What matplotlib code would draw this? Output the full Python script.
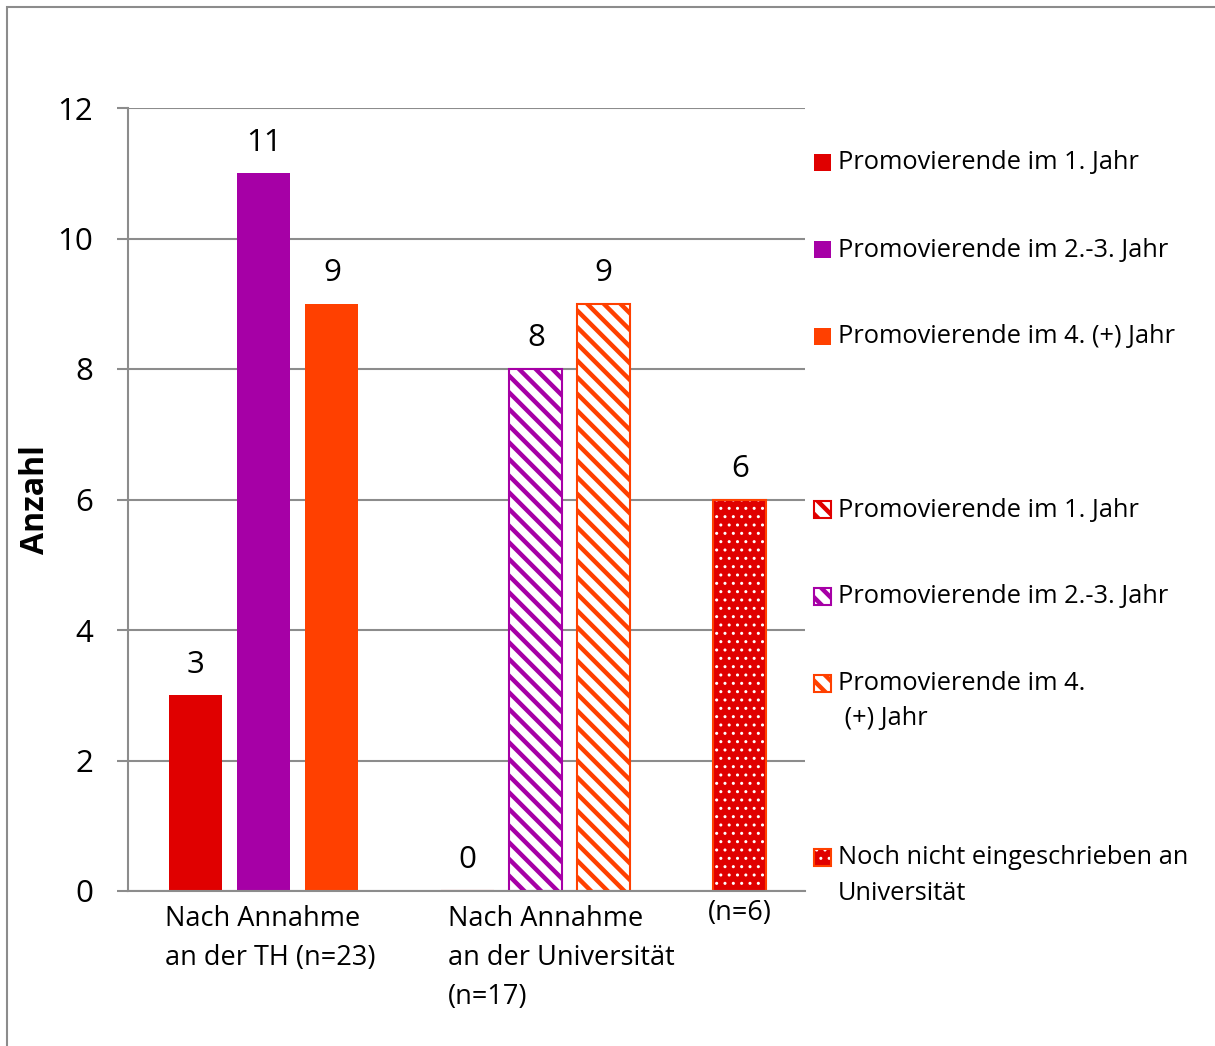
import matplotlib
matplotlib.use("Agg")
import matplotlib.pyplot as plt
from matplotlib.patches import Rectangle

# --- data -------------------------------------------------------------
category_labels = ["Nach Annahme\nan der TH (n=23)",
                   "Nach Annahme\nan der Universität\n(n=17)",
                   "(n=6)"]
series_labels = ["Promovierende im 1. Jahr",
                 "Promovierende im 2.-3. Jahr",
                 "Promovierende im 4. (+) Jahr"]
series_labels_uni = ["Promovierende im 1. Jahr",
                     "Promovierende im 2.-3. Jahr",
                     "Promovierende im 4.\n (+) Jahr"]
label_not_enrolled = "Noch nicht eingeschrieben an\nUniversität"

th_values = [3, 11, 9]          # Nach Annahme an der TH
uni_values = [0, 8, 9]          # Nach Annahme an der Universität
not_enrolled_values = [6]       # Noch nicht eingeschrieben

y_ticks = [0, 2, 4, 6, 8, 10, 12]
y_label = "Anzahl"

# --- style -----------------------------------------------------------
RED = "#E00000"
PURPLE = "#A600A6"
ORANGE = "#FF4000"
GRID = "#8C8C8C"
colors = [RED, PURPLE, ORANGE]
FONT = "Open Sans"
STRIPE_LW = 3.2
DOT_LW = 1.0
NUM_SIZE = 22.5

plt.rcParams["font.family"] = [FONT, "DejaVu Sans"]
plt.rcParams["hatch.linewidth"] = STRIPE_LW

W, H = 1215, 1046
fig = plt.figure(figsize=(W / 100, H / 100), dpi=100)
ax = fig.add_axes([128 / W, 1 - 891 / H, (805 - 128) / W, (891 - 108) / H])

bar_w = 0.78
th_pos = [1, 2, 3]
uni_pos = [5, 6, 7]
ne_pos = [9]


def set_hatch_lw(patches, lw):
    for p in patches:
        if hasattr(p, "set_hatch_linewidth"):
            p.set_hatch_linewidth(lw)


def value_label(x, v):
    ax.annotate(f"{v}", (x, v), xytext=(0, 22), textcoords="offset points",
                ha="center", va="center", fontsize=NUM_SIZE, color="black")


# solid bars
for x, v, c in zip(th_pos, th_values, colors):
    ax.bar(x, v, width=bar_w, color=c, edgecolor="none", zorder=2)
    value_label(x, v)

# hatched bars (white fill, coloured diagonal stripes)
for x, v, c in zip(uni_pos, uni_values, colors):
    bars = ax.bar(x, v, width=bar_w, facecolor="white", edgecolor=c,
                  hatch="\\\\", linewidth=1.5, zorder=2)
    set_hatch_lw(bars, STRIPE_LW)
    value_label(x, v)

# dotted bar (red fill with white dots, orange outline)
for x, v in zip(ne_pos, not_enrolled_values):
    dots = ax.bar(x, v, width=bar_w, facecolor=RED, edgecolor="white",
                  hatch="..", linewidth=0, zorder=2)
    set_hatch_lw(dots, DOT_LW)
    ax.bar(x, v, width=bar_w, facecolor="none", edgecolor=ORANGE,
           linewidth=1.5, zorder=2.1)
    value_label(x, v)

# axes
ax.set_xlim(0, 9.96)
ax.set_ylim(0, 12)
ax.set_yticks(y_ticks)
ax.set_yticklabels([str(t) for t in y_ticks], fontsize=NUM_SIZE)
ax.set_xticks([])
ax.yaxis.grid(True, color=GRID, linewidth=1.5, zorder=0)
ax.set_axisbelow(True)
ax.tick_params(axis="y", length=8, width=1.5, color=GRID, pad=17)
for side in ("top", "right"):
    ax.spines[side].set_visible(False)
for side in ("left", "bottom"):
    ax.spines[side].set_color(GRID)
    ax.spines[side].set_linewidth(1.5)
    ax.spines[side].set_zorder(3)

fig.text(36 / W, 1 - 500 / H, y_label, rotation=90, ha="center", va="center",
         fontsize=23, fontweight="bold")

# category labels below the axis (left aligned, line by line)
cat_left = [165, 448, 708]
cat_top = [919, 919, 913]
for lbl, xl, yt in zip(category_labels, cat_left, cat_top):
    for i, line in enumerate(lbl.split("\n")):
        fig.text(xl / W, 1 - (yt + 39 * i) / H, line, ha="left", va="center",
                 fontsize=19.5)


# legend entries
def legend_entry(y, text, face, edge, hatch=None, hatch_color=None):
    sq = 17
    xy = (814 / W, 1 - (y + sq / 2) / H)
    if hatch is None:
        fig.patches.append(Rectangle(xy, sq / W, sq / H,
                                     transform=fig.transFigure,
                                     facecolor=face, edgecolor=edge,
                                     linewidth=0))
    else:
        base = Rectangle(xy, sq / W, sq / H, transform=fig.transFigure,
                         facecolor=face, edgecolor=hatch_color, hatch=hatch,
                         linewidth=0)
        set_hatch_lw([base], STRIPE_LW if "\\" in hatch else DOT_LW)
        fig.patches.append(base)
        fig.patches.append(Rectangle(xy, sq / W, sq / H,
                                     transform=fig.transFigure,
                                     facecolor="none", edgecolor=edge,
                                     linewidth=1.5))
    for i, line in enumerate(text.split("\n")):
        fig.text(838 / W, 1 - (y + 1 + 35 * i) / H, line, ha="left",
                 va="center", fontsize=18.3)


for y, lbl, c in zip([162, 249, 336], series_labels, colors):
    legend_entry(y, lbl, c, c)
for y, lbl, c in zip([509, 596, 683], series_labels_uni, colors):
    legend_entry(y, lbl, "white", c, hatch="\\\\", hatch_color=c)
legend_entry(857, label_not_enrolled, RED, ORANGE, hatch="..",
             hatch_color="white")

# outer frame (left and top edges visible)
fig.patches.append(Rectangle((7 / W, -0.1), 1.2, 1 - 7 / H + 0.1,
                             transform=fig.transFigure, facecolor="none",
                             edgecolor=GRID, linewidth=1.5))

fig.savefig("out.png", dpi=100)
